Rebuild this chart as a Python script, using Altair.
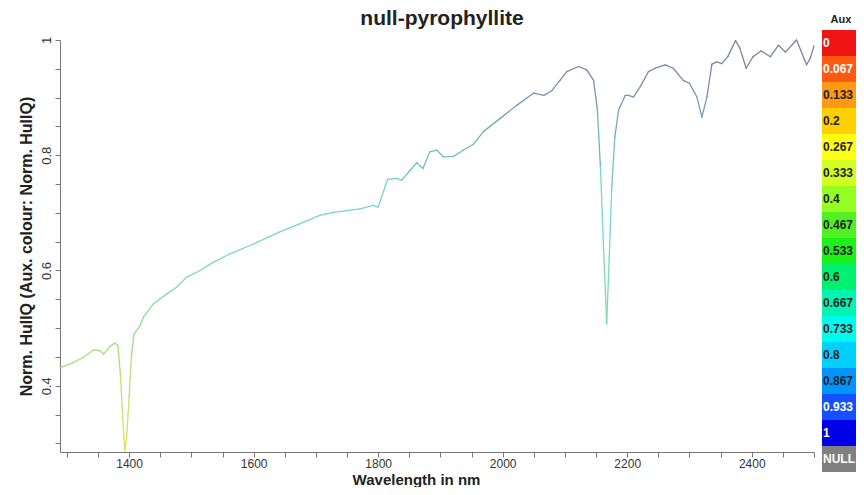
import altair as alt
import pandas as pd

# ---- data ----
wavelength = [1289, 1310, 1326, 1343, 1353, 1359, 1369, 1377, 1382, 1386, 1390, 1393,
              1396, 1400, 1404, 1408, 1417, 1423, 1439, 1460, 1476, 1492, 1514, 1535,
              1562, 1600, 1642, 1674, 1707, 1728, 1771, 1792, 1800, 1815, 1830, 1838,
              1849, 1862, 1872, 1883, 1894, 1905, 1921, 1937, 1953, 1969, 1996, 2023,
              2050, 2066, 2079, 2092, 2103, 2122, 2135, 2146, 2152, 2157, 2162, 2167,
              2171, 2175, 2180, 2186, 2197, 2202, 2210, 2221, 2234, 2245, 2261, 2274,
              2290, 2300, 2312, 2320, 2328, 2336, 2344, 2352, 2362, 2374, 2381, 2391,
              2402, 2415, 2430, 2443, 2454, 2472, 2488, 2494, 2500]
hullq = [0.431, 0.440, 0.449, 0.462, 0.461, 0.455, 0.468, 0.474, 0.470, 0.420, 0.340, 0.287,
         0.310, 0.380, 0.455, 0.490, 0.503, 0.519, 0.542, 0.559, 0.571, 0.588, 0.600, 0.614,
         0.629, 0.646, 0.667, 0.681, 0.696, 0.701, 0.707, 0.713, 0.710, 0.758, 0.760, 0.757,
         0.771, 0.787, 0.777, 0.806, 0.809, 0.797, 0.798, 0.809, 0.819, 0.841, 0.864, 0.887,
         0.908, 0.904, 0.912, 0.930, 0.945, 0.954, 0.948, 0.930, 0.880, 0.780, 0.640, 0.507,
         0.620, 0.740, 0.830, 0.878, 0.904, 0.904, 0.901, 0.919, 0.945, 0.951, 0.957, 0.951,
         0.930, 0.925, 0.901, 0.866, 0.901, 0.958, 0.962, 0.959, 0.972, 0.999, 0.986, 0.951,
         0.971, 0.981, 0.971, 0.991, 0.979, 1.000, 0.957, 0.968, 0.990]

# colour bar ("Aux")
legend_labels = ["Aux", "0", "0.067", "0.133", "0.2", "0.267", "0.333", "0.4", "0.467",
                 "0.533", "0.6", "0.667", "0.733", "0.8", "0.867", "0.933", "1", "NULL"]
legend_fills = ["#ffffff", "#f01414", "#ff5a12", "#ff9a14", "#ffd000", "#ffff14", "#d2ff20",
                "#94ff20", "#52f020", "#1ef01e", "#00f070", "#00f5b0", "#00fbee", "#00d0ff",
                "#0094ff", "#1450ff", "#0000e6", "#808080"]
legend_textcol = ["#222222", "#ffffff", "#ffffff", "#222222", "#222222", "#222222", "#222222",
                  "#222222", "#222222", "#222222", "#222222", "#222222", "#222222", "#222222",
                  "#222222", "#ffffff", "#ffffff", "#ffffff"]

# line colour as a function of the value (as it appears in the picture)
line_stops = [0.28, 0.40, 0.50, 0.62, 0.72, 0.85, 0.93, 1.0]
line_colors = ["#e2e45a", "#c0e070", "#94dc8c", "#7cd8c0", "#74d4d6", "#74acbc", "#8088aa", "#7a7e9e"]

FONT = "Liberation Sans"
W, H = 754, 412

seg = pd.DataFrame({
    "wl": wavelength[:-1], "val": hullq[:-1],
    "wl2": wavelength[1:], "val2": hullq[1:],
})
seg["mid"] = (seg["val"] + seg["val2"]) / 2

x_scale = alt.Scale(domain=[1289, 2500], nice=False, zero=False)
y_scale = alt.Scale(domain=[0.285, 1.0], nice=False, zero=False)

x_axis = alt.Axis(
    values=list(range(1300, 2501, 50)), format="d",
    labelExpr="datum.value % 200 == 0 ? datum.label : ''",
    title="Wavelength in nm", titleFont=FONT, titleFontSize=15, titleFontWeight="bold",
    titleColor="#222222", titleX=356, titleY=32, titleAlign="center", titleBaseline="alphabetic",
    labelFont=FONT, labelFontSize=12, labelColor="#333333", labelPadding=1,
    grid=False, domainColor="#777777", tickColor="#777777", tickSize=5,
)
y_axis = alt.Axis(
    values=[round(0.3 + 0.05 * i, 2) for i in range(15)],
    labelExpr="round(datum.value*100) % 20 == 0 ? format(datum.value, '~g') : ''",
    labelAngle=-90, labelAlign="center", labelBaseline="bottom",
    title="Norm. HullQ  (Aux. colour: Norm. HullQ)", titleFont=FONT, titleFontSize=16,
    titleFontWeight="bold", titleColor="#222222", titlePadding=6,
    labelFont=FONT, labelFontSize=13, labelColor="#333333", labelPadding=2,
    grid=False, domainColor="#777777", tickColor="#777777", tickSize=5,
)

line = alt.Chart(seg).mark_rule(strokeWidth=1.3, strokeCap="round").encode(
    x=alt.X("wl:Q", scale=x_scale, axis=x_axis),
    x2="wl2:Q",
    y=alt.Y("val:Q", scale=y_scale, axis=y_axis),
    y2="val2:Q",
    stroke=alt.Stroke("mid:Q", scale=alt.Scale(domain=line_stops, range=line_colors), legend=None),
)

leg = pd.DataFrame({"label": legend_labels, "fill": legend_fills, "tcol": legend_textcol})
band = alt.Scale(domain=legend_labels, range=[-36, 432], paddingInner=0, paddingOuter=0)

leg_rect = alt.Chart(leg).transform_filter("datum.label != 'Aux'").mark_rect().encode(
    y=alt.Y("label:N", scale=band, axis=None),
    x=alt.value(762), x2=alt.value(796),
    fill=alt.Fill("label:N", scale=alt.Scale(domain=legend_labels, range=legend_fills), legend=None),
)
leg_text = alt.Chart(leg).transform_filter("datum.label != 'Aux'").mark_text(
    align="left", baseline="middle", font=FONT, fontSize=12, fontWeight="bold"
).encode(
    y=alt.Y("label:N", scale=band, axis=None),
    x=alt.value(763),
    text="label:N",
    fill=alt.Fill("tcol:N", scale=None),
)
leg_head = alt.Chart(leg).transform_filter("datum.label == 'Aux'").mark_text(
    align="center", baseline="middle", font=FONT, fontSize=11, fontWeight="bold", dy=3
).encode(
    y=alt.Y("label:N", scale=band, axis=None),
    x=alt.value(781),
    text="label:N",
    fill=alt.Fill("tcol:N", scale=None),
)

chart = alt.layer(line, leg_rect, leg_text, leg_head).resolve_scale(
    y="independent"
).properties(
    width=W, height=H,
    title=alt.TitleParams("null-pyrophyllite", font=FONT, fontSize=21, fontWeight="bold",
                          color="#222222", anchor="middle", frame="group",
                          baseline="alphabetic", offset=-32, dx=5),
    autosize=alt.AutoSizeParams(type="none"),
    padding={"left": 52, "top": 32, "right": 42, "bottom": 35},
).configure(background="white").configure_view(stroke=None)

chart.save("out.html", embed_options={"renderer": "svg", "actions": False})
